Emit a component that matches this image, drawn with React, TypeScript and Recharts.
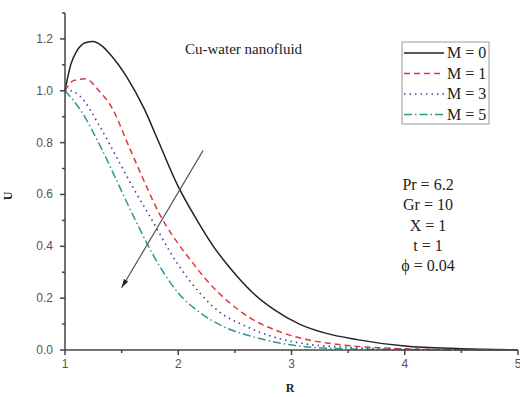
import React from 'react';
import { LineChart, Line, XAxis, YAxis, ReferenceLine, Customized } from 'recharts';

document.body.style.margin = '0';

// series: R positions and U values for each M
const R_M0 = [1, 1.05, 1.1, 1.18, 1.25, 1.32, 1.4, 1.55, 1.7, 1.82, 2.0, 2.16, 2.31, 2.45, 2.66, 2.85, 3.07, 3.3, 3.58, 4.0, 4.5, 5.0];
const U_M0 = [1.0, 1.1, 1.15, 1.185, 1.19, 1.175, 1.14, 1.05, 0.93, 0.81, 0.63, 0.505, 0.4, 0.32, 0.22, 0.155, 0.1, 0.065, 0.04, 0.015, 0.005, 0.0];

const R_M1 = [1, 1.08, 1.18, 1.3, 1.42, 1.55, 1.72, 1.84, 2.0, 2.13, 2.22, 2.46, 2.63, 2.85, 3.07, 3.4, 3.8, 4.3, 5.0];
const U_M1 = [1.0, 1.04, 1.046, 1.0, 0.93, 0.8, 0.63, 0.52, 0.41, 0.335, 0.285, 0.18, 0.125, 0.078, 0.047, 0.022, 0.008, 0.002, 0.0];

const R_M3 = [1, 1.05, 1.13, 1.31, 1.46, 1.59, 1.75, 1.99, 2.19, 2.31, 2.63, 3.07, 3.5, 4.0, 5.0];
const U_M3 = [1.0, 1.0, 0.98, 0.86, 0.74, 0.635, 0.515, 0.335, 0.22, 0.166, 0.085, 0.027, 0.01, 0.003, 0.0];

const R_M5 = [1, 1.13, 1.33, 1.46, 1.6, 1.84, 2.0, 2.19, 2.4, 2.63, 3.07, 3.5, 4.0, 5.0];
const U_M5 = [1.0, 0.93, 0.77, 0.65, 0.52, 0.32, 0.22, 0.145, 0.09, 0.055, 0.015, 0.004, 0.001, 0.0];

const X_TICKS = [1, 1.5, 2, 2.5, 3, 3.5, 4, 4.5, 5];
const X_MAJOR = [1, 2, 3, 4, 5];
const Y_TICKS = [0, 0.1, 0.2, 0.3, 0.4, 0.5, 0.6, 0.7, 0.8, 0.9, 1.0, 1.1, 1.2, 1.3];
const Y_MAJOR = [0, 0.2, 0.4, 0.6, 0.8, 1.0, 1.2];

const LEGEND_LABELS = ['M = 0', 'M = 1', 'M = 3', 'M = 5'];
const PARAM_LINES = ['Pr = 6.2', 'Gr = 10', 'X = 1', 't = 1', '\u03d5 = 0.04'];
const ARROW_FROM = { r: 2.22, u: 0.77 };
const ARROW_TO = { r: 1.5, u: 0.24 };

const SERIES = [
  { name: LEGEND_LABELS[0], r: R_M0, u: U_M0, color: '#222222', dash: undefined, width: 1.5 },
  { name: LEGEND_LABELS[1], r: R_M1, u: U_M1, color: '#e0383a', dash: '6 4', width: 1.5 },
  { name: LEGEND_LABELS[2], r: R_M3, u: U_M3, color: '#3b3fa8', dash: '1.5 4', width: 1.6 },
  { name: LEGEND_LABELS[3], r: R_M5, u: U_M5, color: '#2b9a8c', dash: '8 3 1.5 3', width: 1.5 },
];

const AXIS = '#444';
const SERIF = '"Liberation Serif", "Times New Roman", serif';
const SANS = '"Liberation Sans", Arial, sans-serif';

const XTick = (props: any) => {
  const { x, y, payload } = props;
  const v = payload.value;
  const major = X_MAJOR.some(m => Math.abs(m - v) < 1e-6);
  const ay = y - 8;
  return (
    <g>
      <line x1={x} y1={ay} x2={x} y2={ay + (major ? 5 : 3)} stroke={AXIS} strokeWidth={1.5} />
      {major && (
        <text x={x} y={ay + 18} textAnchor="middle" fontSize={12} fill="#555" fontFamily={SANS}>
          {v}
        </text>
      )}
    </g>
  );
};

const YTick = (props: any) => {
  const { x, y, payload } = props;
  const v = payload.value;
  const major = Y_MAJOR.some(m => Math.abs(m - v) < 1e-6);
  const ax = x + 8;
  return (
    <g>
      <line x1={ax} y1={y} x2={ax - (major ? 5 : 3)} y2={y} stroke={AXIS} strokeWidth={1.5} />
      {major && (
        <text x={ax - 12} y={y + 4} textAnchor="end" fontSize={12} fill="#555" fontFamily={SANS}>
          {v.toFixed(1)}
        </text>
      )}
    </g>
  );
};

const ArrowShape = (props: any) => {
  const { x1, y1, x2, y2 } = props;
  if ([x1, y1, x2, y2].some(n => typeof n !== 'number')) return null;
  const ang = Math.atan2(y2 - y1, x2 - x1);
  const len = 9;
  const spread = 0.28;
  const p1 = [x2 - len * Math.cos(ang - spread), y2 - len * Math.sin(ang - spread)];
  const p2 = [x2 - len * Math.cos(ang + spread), y2 - len * Math.sin(ang + spread)];
  return (
    <g>
      <line x1={x1} y1={y1} x2={x2} y2={y2} stroke="#555" strokeWidth={1.2} />
      <polygon points={`${x2},${y2} ${p1[0]},${p1[1]} ${p2[0]},${p2[1]}`} fill="#222" />
    </g>
  );
};

const Annotations = () => {
  const lx = 402;
  const ly = 42;
  return (
    <g>
      <text x={185} y={54} fontSize={15} fontFamily={SERIF} fill="#222">Cu-water nanofluid</text>
      <rect x={lx} y={ly} width={87} height={82} fill="#fff" stroke="#999" strokeWidth={1} />
      {SERIES.map((s, i) => {
        const yy = ly + 11 + i * 20.5;
        return (
          <g key={s.name}>
            <line x1={lx + 2} y1={yy} x2={lx + 42} y2={yy} stroke={s.color} strokeWidth={s.width} strokeDasharray={s.dash} />
            <text x={lx + 45} y={yy + 5} fontSize={16} fontFamily={SERIF} fill="#222">{s.name}</text>
          </g>
        );
      })}
      {PARAM_LINES.map((t, i) => (
        <text key={t} x={428} y={190 + i * 20.3} textAnchor="middle" fontSize={16} fontFamily={SERIF} fill="#222">
          {t}
        </text>
      ))}
      <text x={290} y={392} textAnchor="middle" fontSize={12} fontWeight="bold" fontFamily={SERIF} fill="#222">R</text>
      <text x={12} y={196} textAnchor="middle" fontSize={12} fontWeight="bold" fontFamily={SERIF} fill="#222" transform="rotate(-90 12 196)">U</text>
    </g>
  );
};

export default function App() {
  return (
    <div style={{ width: 520, height: 397, background: '#fff' }}>
      <LineChart width={520} height={397} margin={{ top: 13, right: 2, bottom: 0, left: 15 }}>
        <XAxis
          type="number"
          dataKey="r"
          domain={[1, 5]}
          ticks={X_TICKS}
          interval={0}
          allowDuplicatedCategory={false}
          tick={<XTick />}
          tickLine={false}
          tickSize={5}
          tickMargin={3}
          height={47}
          axisLine={{ stroke: AXIS, strokeWidth: 1.5 }}
        />
        <YAxis
          type="number"
          domain={[0, 1.3]}
          ticks={Y_TICKS}
          interval={0}
          tick={<YTick />}
          tickLine={false}
          tickSize={5}
          tickMargin={3}
          width={50}
          axisLine={{ stroke: AXIS, strokeWidth: 1.5 }}
        />
        {SERIES.map(s => (
          <Line
            key={s.name}
            data={s.r.map((r, i) => ({ r, u: s.u[i] }))}
            dataKey="u"
            type="monotone"
            stroke={s.color}
            strokeWidth={s.width}
            strokeDasharray={s.dash}
            dot={false}
            activeDot={false}
            isAnimationActive={false}
          />
        ))}
        <ReferenceLine
          segment={[{ x: ARROW_FROM.r, y: ARROW_FROM.u }, { x: ARROW_TO.r, y: ARROW_TO.u }]}
          shape={<ArrowShape />}
          ifOverflow="visible"
        />
        <Customized component={<Annotations />} />
      </LineChart>
    </div>
  );
}
